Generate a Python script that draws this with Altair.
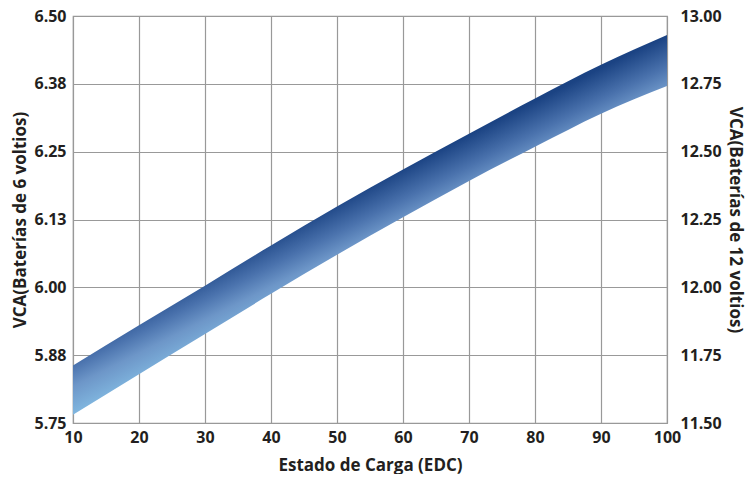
import altair as alt
import pandas as pd

# Data
soc = [10, 20, 30, 40, 50, 60, 70, 80, 90, 100]
v6_top = [5.856, 5.930, 6.003, 6.077, 6.149, 6.217, 6.283, 6.348, 6.410, 6.465]
v6_bottom = [5.765, 5.840, 5.914, 5.988, 6.060, 6.129, 6.196, 6.259, 6.320, 6.371]

left_ticks = [5.75, 5.875, 6.0, 6.125, 6.25, 6.375, 6.5]
right_ticks = [11.5, 11.75, 12.0, 12.25, 12.5, 12.75, 13.0]
x_ticks = [10, 20, 30, 40, 50, 60, 70, 80, 90, 100]

df = pd.DataFrame({
    "soc": soc,
    "top6": v6_top,
    "bot6": v6_bottom,
})
df["top12"] = df["top6"] * 2
df["bot12"] = df["bot6"] * 2

FONT = "Open Sans"
TXT = "#231f20"
GRID = "#999999"
TITLE_SIZE = 17

gradient = {
    "gradient": "linear",
    "x1": 1.0, "y1": 0.0,
    "x2": 1.1034, "y2": 0.1314,
    "stops": [
        {"offset": 0.0, "color": "#1b4383"},
        {"offset": 0.39, "color": "#4a72ad"},
        {"offset": 0.65, "color": "#6d96c8"},
        {"offset": 1.0, "color": "#80b6df"},
    ],
}

x_enc = alt.X(
    "soc:Q",
    scale=alt.Scale(domain=[10, 100], nice=False, zero=False),
    axis=alt.Axis(
        values=x_ticks, title="Estado de Carga (EDC)", grid=True,
        gridColor=GRID, gridWidth=1.2, domain=False, ticks=False,
        labelFont=FONT, labelFontSize=16, labelFontWeight="bold", labelColor=TXT,
        labelPadding=6, titleFont=FONT, titleFontSize=TITLE_SIZE, titleFontWeight="bold",
        titleColor=TXT, titlePadding=12, labelFlush=False,
    ),
)

band = alt.Chart(df).mark_area(color=gradient, interpolate="monotone").encode(
    x=x_enc,
    y=alt.Y(
        "top6:Q",
        scale=alt.Scale(domain=[5.75, 6.5], nice=False, zero=False),
        axis=alt.Axis(
            values=left_ticks, format=".2f", title="VCA(Baterías de 6 voltios)",
            grid=True, gridColor=GRID, gridWidth=1.2, domain=False, ticks=False,
            labelFont=FONT, labelFontSize=16, labelFontWeight="bold", labelColor=TXT,
            labelPadding=7, titleFont=FONT, titleFontSize=TITLE_SIZE, titleFontWeight="bold",
            titleColor=TXT, titlePadding=4, labelFlush=False, orient="left",
        ),
    ),
    y2="bot6:Q",
)

right = alt.Chart(df).mark_area(opacity=0, interpolate="monotone").encode(
    x=x_enc,
    y=alt.Y(
        "top12:Q",
        scale=alt.Scale(domain=[11.5, 13.0], nice=False, zero=False),
        axis=alt.Axis(
            values=right_ticks, format=".2f", title="VCA(Baterías de 12 voltios)",
            grid=False, domain=False, ticks=False, orient="right",
            labelFont=FONT, labelFontSize=16, labelFontWeight="bold", labelColor=TXT,
            labelPadding=13, titleFont=FONT, titleFontSize=TITLE_SIZE, titleFontWeight="bold",
            titleColor=TXT, titlePadding=4, labelFlush=False,
        ),
    ),
    y2="bot12:Q",
)

chart = alt.layer(band, right).resolve_scale(y="independent").properties(
    width=594,
    height=407,
    autosize=alt.AutoSizeParams(type="none"),
    padding={"left": 65, "top": 8, "right": 81, "bottom": 51},
    background="white",
).configure_view(stroke=GRID, strokeWidth=1.2)

chart.save("out.html", embed_options={"renderer": "svg", "actions": False})
